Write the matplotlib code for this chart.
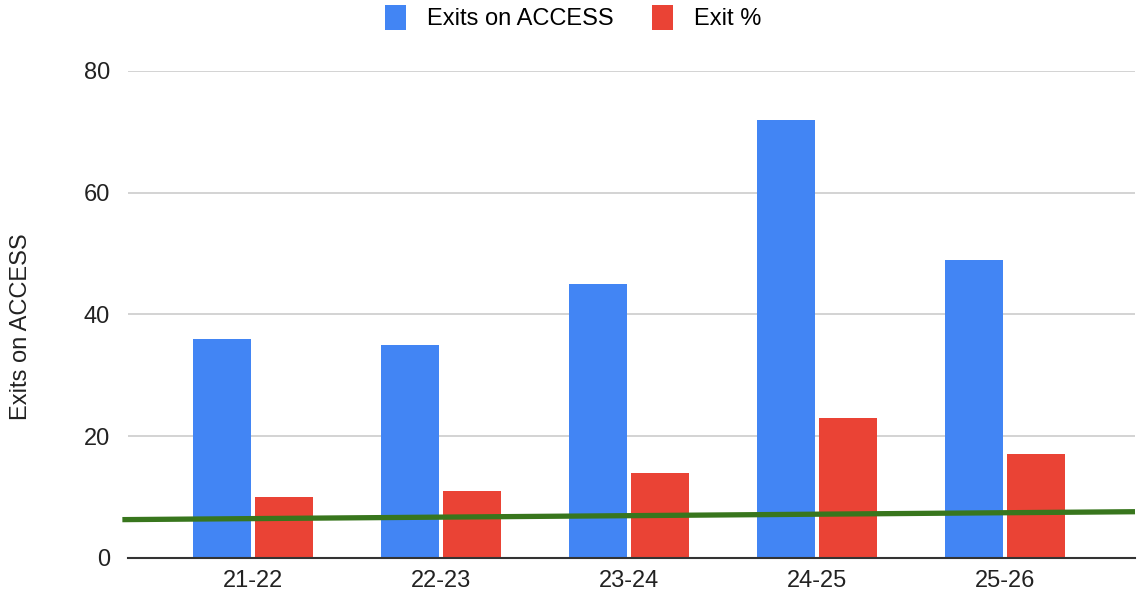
import matplotlib.pyplot as plt
import numpy as np

plt.rcParams["font.family"] = ["Liberation Sans", "DejaVu Sans"]

# Data
seasons = ["21-22", "22-23", "23-24", "24-25", "25-26"]
exits_on_access = [36, 35, 45, 72, 49]
exit_pct = [10, 11, 14, 23, 17]
trend_ends = [6.3, 7.6]

BLUE = "#4285f4"
RED = "#ea4335"
GREEN = "#38761d"
TEXT = "#222222"

fig = plt.figure(figsize=(11.46, 5.96), dpi=100)
ax = fig.add_axes([0.1117, 0.0638, 0.8787, 0.8171])

x = np.arange(len(seasons))
width = 0.31
offset = 0.165

ax.bar(x - offset, exits_on_access, width, color=BLUE, label="Exits on ACCESS", zorder=2)
ax.bar(x + offset, exit_pct, width, color=RED, label="Exit %", zorder=2)

xlim = (-0.665, 4.69)
ax.plot([xlim[0] - 0.03, xlim[1]], trend_ends, color=GREEN, linewidth=3.8,
        solid_capstyle="butt", zorder=3, clip_on=False)

ax.set_xlim(*xlim)
ax.set_ylim(0, 80)
ax.set_yticks([0, 20, 40, 60, 80])
ax.set_xticks(x)
ax.set_xticklabels(seasons)

ax.grid(axis="y", color="#cccccc", linewidth=1.2, zorder=0)
for side in ["top", "right", "left"]:
    ax.spines[side].set_visible(False)
ax.spines["bottom"].set_color("#333333")
ax.spines["bottom"].set_linewidth(1.5)
ax.spines["bottom"].set_zorder(4)
ax.tick_params(axis="both", length=0, labelsize=17, colors=TEXT)
ax.tick_params(axis="y", pad=13)
ax.tick_params(axis="x", pad=9)

ax.set_ylabel("Exits on ACCESS", fontsize=17, color=TEXT)
ax.yaxis.set_label_coords(-0.095, 0.475)

fig.legend(
    loc="upper center",
    bbox_to_anchor=(0.5, 1.028),
    ncol=2,
    frameon=False,
    fontsize=17,
    handlelength=0.9,
    handleheight=1.3,
    handletextpad=0.9,
    columnspacing=1.6,
)

plt.savefig("out.png", dpi=100)
